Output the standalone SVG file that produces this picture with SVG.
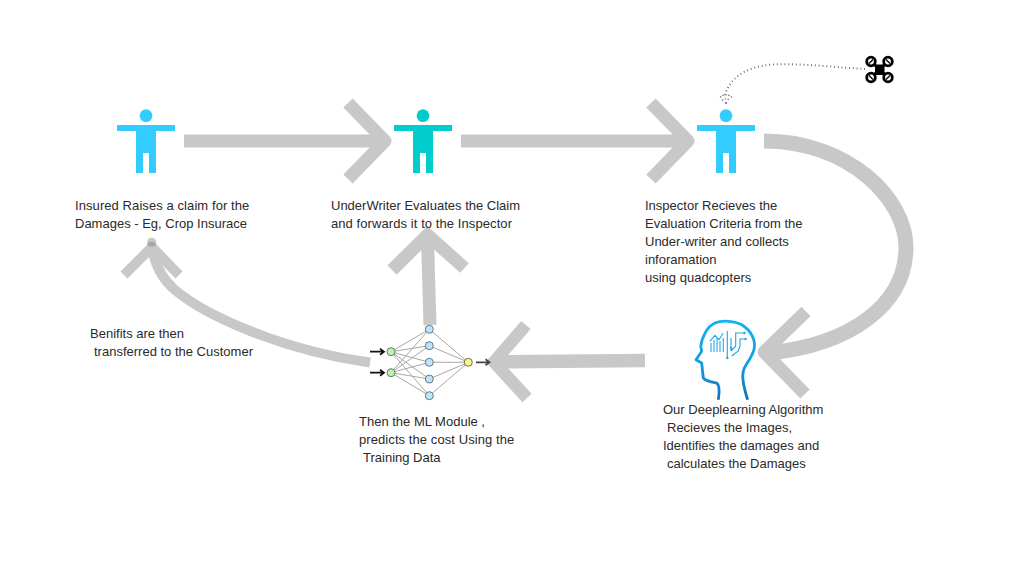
<svg xmlns="http://www.w3.org/2000/svg" width="1026" height="563" viewBox="0 0 1026 563">
<style>
.flow{fill:none;stroke:#c8c8c8;stroke-linejoin:round}
.t{font-family:"Liberation Sans",Arial,sans-serif;font-size:13px;fill:#2a2a2a}
.w{letter-spacing:.08px}
.edge{stroke:#a8a8a8;stroke-width:1;fill:none}
.in{fill:#bdf0b0;stroke:#5f7f68;stroke-width:1}
.hid{fill:#bfe4f8;stroke:#5f7a8a;stroke-width:1}
.out{fill:#f8f590;stroke:#6f6f50;stroke-width:1}
.sig{stroke:#111;stroke-width:1.700;fill:none}
.rotor{fill:#fff;stroke:#000;stroke-width:2.800}
.brain{fill:none;stroke:#1ea6e6;stroke-width:1.100}
</style>
<defs>
<path id="person" d="M-29 9H29V15H10V57H3V37H-3V57H-10V15H-29Z"/>
<linearGradient id="headgrad" gradientUnits="userSpaceOnUse" x1="0" y1="320" x2="0" y2="400"><stop offset="0" stop-color="#0fb0f5"/><stop offset=".5" stop-color="#12a0e8"/><stop offset="1" stop-color="#1670bd"/></linearGradient>
</defs>
<g id="connectors">
<path class="flow" stroke-width="13" d="M184 141H384"/>
<path class="flow" stroke-width="13" d="M348 103L385 141L348 179"/>
<path class="flow" stroke-width="13" d="M461 141H687"/>
<path class="flow" stroke-width="13" d="M651 103L688 141L651 179"/>
<path class="flow" stroke-width="15" d="M764 141C850 141 906 200 906 247C906 305 850 345 768 353"/>
<path class="flow" stroke-width="13" d="M806 311.500L764 352L805 394"/>
<path class="flow" stroke-width="13.500" d="M645 360.500L495 362"/>
<path class="flow" stroke-width="12.500" style="stroke-linejoin:miter" d="M526 325L494 362L527 398"/>
<path class="flow" stroke-width="13" d="M430 325L427.500 240"/>
<path class="flow" stroke-width="13" style="stroke-linejoin:miter" d="M392 270L427.500 235L464.500 268"/>
<path class="flow" stroke-width="10" d="M370 362.500C280 350 205 315 175 290C160 277 154 262 152 246"/>
<path class="flow" stroke-width="10" d="M124 275L152 247L179 275"/>
<circle cx="151.700" cy="242.500" r="4.700" fill="#c8c8c8"/>
<ellipse cx="151.700" cy="244.300" rx="4" ry="2.500" fill="#a8a8a8"/>
<path d="M725 95C730 78 745 67 772 64.500C805 63 840 68 865 69" fill="none" stroke="#777" stroke-width="2" stroke-dasharray="1 2.800"/>
<path d="M720 97.500Q726 92 732 97.500M722 100.500Q726 97 730 100.500" fill="none" stroke="#777" stroke-width="1.200" stroke-dasharray="1.500 1.500"/>
<rect x="725" y="102" width="1.800" height="1.800" fill="#666"/>
</g>
<g id="insured" fill="#33ccff">
<circle cx="146" cy="115.700" r="6.400"/>
<use href="#person" x="146" y="116"/>
<text class="t"><tspan class="w" x="75" y="210">Insured Raises a claim for the</tspan><tspan x="75" y="228">Damages - Eg, Crop Insurace</tspan></text>
</g>
<g id="underwriter" fill="#00cccc">
<circle cx="423" cy="115.700" r="6.400"/>
<use href="#person" x="423" y="116"/>
<text class="t"><tspan x="331" y="210">UnderWriter Evaluates the Claim</tspan><tspan class="w" x="331" y="228">and forwards it to the Inspector</tspan></text>
</g>
<g id="inspector" fill="#33ccff">
<circle cx="726" cy="115.700" r="6.400"/>
<use href="#person" x="726" y="116"/>
<text class="t"><tspan x="645" y="210">Inspector Recieves the</tspan><tspan x="645" y="228">Evaluation Criteria from the</tspan><tspan x="645" y="246">Under-writer and collects</tspan><tspan x="645" y="264">inforamation</tspan><tspan x="645" y="282">using quadcopters</tspan></text>
</g>
<g id="quadcopter">
<path d="M871 61.500L888 77.500M888 61.500L871 77.500" stroke="#000" stroke-width="3"/>
<rect x="875" y="64.500" width="9.500" height="10.500" fill="#000"/>
<circle class="rotor" cx="871" cy="61.500" r="4.300"/><circle class="rotor" cx="888" cy="61.500" r="4.300"/>
<circle class="rotor" cx="871" cy="77.500" r="4.300"/><circle class="rotor" cx="888" cy="77.500" r="4.300"/>
<path d="M869 63.500L873 59.500M886 59.500L890 63.500M869 75.500L873 79.500M886 79.500L890 75.500" stroke="#000" stroke-width="1.300"/>
</g>
<g id="deeplearning">
<path d="M747.700 399.700C745.500 393 743.500 385 743 380C742 372 744 368 746 365C750 359 753.500 353 754.300 348C755.500 341 752 331 741.700 324.700C735 321 722 320 715 323C707 326.500 702 337 700.700 346.300L701.700 351.300L696 359.700L701.700 363L702.500 371L703.300 378C705 381 712 382 716.700 383C719.500 385 719.500 392 718.300 399.700" fill="none" stroke="url(#headgrad)" stroke-width="2.800" stroke-linejoin="round"/>
<path class="brain" d="M711 352V343M714 352V340M717 352V337M720 352V341M723.300 352V338M727.300 358V331M710 341.300L715 335.300L719 339.700L723.300 333M735.700 346V333H744M740 346V339H745M731 351L735.700 346M731.700 356L738.300 351L740 346M731 338V351"/>
<circle cx="727.300" cy="358" r="1.200" fill="#1ea6e6"/><circle cx="731" cy="348" r="1.200" fill="#1ea6e6"/><circle cx="744.500" cy="333" r="1.200" fill="#1ea6e6"/><circle cx="745.500" cy="339" r="1.200" fill="#1ea6e6"/>
<text class="t"><tspan x="663" y="414">Our Deeplearning Algorithm</tspan><tspan x="667" y="432">Recieves the Images,</tspan><tspan x="663" y="450">Identifies the damages and</tspan><tspan x="667" y="468">calculates the Damages</tspan></text>
</g>
<g id="ml-module">
<path class="edge" d="M391 351.700L429.300 329.300M391 351.700L429.300 345.700M391 351.700L429.300 362.300M391 351.700L429.300 379M391 351.700L429.300 395.700M391 372.700L429.300 329.300M391 372.700L429.300 345.700M391 372.700L429.300 362.300M391 372.700L429.300 379M391 372.700L429.300 395.700M429.300 329.300L468.300 362.300M429.300 345.700L468.300 362.300M429.300 362.300L468.300 362.300M429.300 379L468.300 362.300M429.300 395.700L468.300 362.300"/>
<circle class="in" cx="391" cy="351.700" r="4"/><circle class="in" cx="391" cy="372.700" r="4"/>
<circle class="hid" cx="429.300" cy="329.300" r="4"/><circle class="hid" cx="429.300" cy="345.700" r="4"/><circle class="hid" cx="429.300" cy="362.300" r="4"/><circle class="hid" cx="429.300" cy="379" r="4"/><circle class="hid" cx="429.300" cy="395.700" r="4"/>
<circle class="out" cx="468.300" cy="362.300" r="4"/>
<path class="sig" d="M370 351.700H383M380 348.700L384 351.700L380 354.700M370 372.700H383M380 369.700L384 372.700L380 375.700"/>
<path class="sig" style="stroke:#444" d="M476 362.300H488M485.500 359.300L489.500 362.300L485.500 365.300"/>
<text class="t"><tspan x="359" y="426">Then the ML Module ,</tspan><tspan class="w" x="359" y="444">predicts the cost Using the</tspan><tspan x="363" y="462">Training Data</tspan></text>
</g>
<g id="benefits">
<text class="t"><tspan x="90" y="338">Benifits are then</tspan><tspan x="94" y="356">transferred to the Customer</tspan></text>
</g>
</svg>
